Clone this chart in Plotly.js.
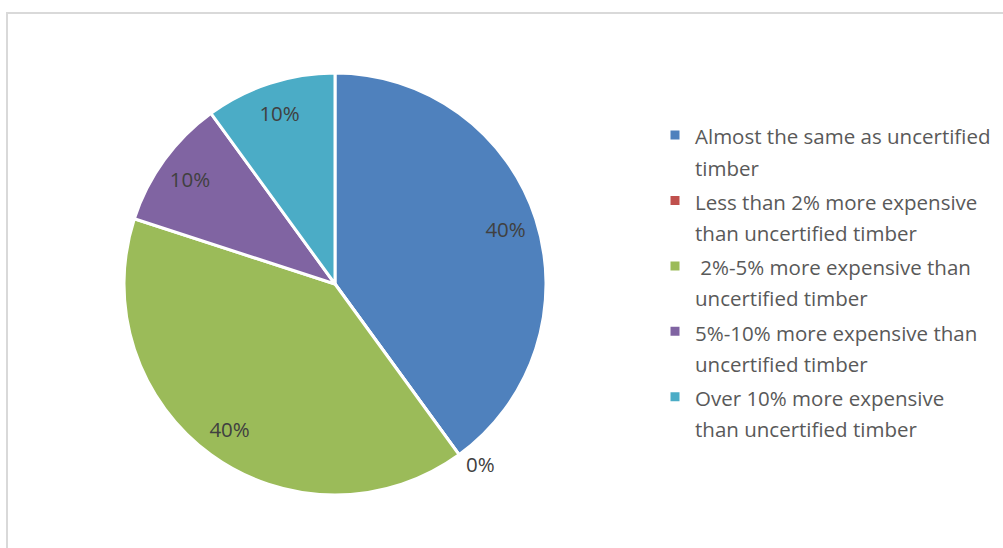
<!DOCTYPE html>
<html>
<head>
<meta charset="utf-8">
<script src="https://cdn.plot.ly/plotly-3.0.1.min.js"></script>
<style>html,body{margin:0;padding:0;background:#fff;}#chart{width:1003px;height:548px;}</style>
</head>
<body>
<div id="chart"></div>
<script>
var categories = [
  "Almost the same as uncertified<br>timber",
  "Less than 2% more expensive<br>than uncertified timber",
  "\u00a02%-5% more expensive than<br>uncertified timber",
  "5%-10% more expensive than<br>uncertified timber",
  "Over 10% more expensive<br>than uncertified timber"
];
var values = [40, 0, 40, 10, 10];
var colors = ["#4F81BD", "#C0504D", "#9BBB59", "#8064A2", "#4BACC6"];
var labelPositions = ["inside", "outside", "inside", "inside", "inside"];

var W = 1003, H = 548;
var cx = 335, cy = 284, R = 211;
var FONT = "'Open Sans', Lato, sans-serif";
var dom = { x: [(cx - R) / W, (cx + R) / W], y: [(H - cy - R) / H, (H - cy + R) / H] };

var pieTrace = {
  type: "pie",
  labels: categories.map(function(c){ return '<span style="font-size:20.5px">' + c + '</span>'; }),
  values: values,
  sort: false,
  direction: "clockwise",
  rotation: 0,
  marker: { colors: colors, line: { color: "#ffffff", width: 3 } },
  textinfo: "none",
  hoverinfo: "none",
  domain: dom
};

// transparent ring used only to place the percentage labels near the rim
var labelTrace = {
  type: "pie",
  labels: pieTrace.labels,
  values: values,
  sort: false,
  direction: "clockwise",
  rotation: 0,
  hole: 0.7,
  showlegend: false,
  marker: { colors: colors.map(function(){ return "rgba(0,0,0,0)"; }), line: { width: 0 } },
  texttemplate: "%{percent:.0%}",
  textposition: labelPositions,
  insidetextorientation: "horizontal",
  textfont: { family: FONT, size: 20.5, color: "#404040" },
  outsidetextfont: { family: FONT, size: 20.5, color: "#404040" },
  hoverinfo: "none",
  domain: dom
};

var layout = {
  width: W, height: H,
  margin: { l: 0, r: 0, t: 0, b: 0 },
  paper_bgcolor: "#ffffff",
  showlegend: true,
  legend: {
    x: 655 / W, xanchor: "left",
    y: (H - 113) / H, yanchor: "top",
    valign: "top",
    font: { family: FONT, size: 24, color: "#595959" },
    bgcolor: "rgba(0,0,0,0)"
  },
  shapes: [{
    type: "rect", xref: "paper", yref: "paper",
    x0: 7 / W, x1: 1.05, y0: -0.05, y1: (H - 13) / H,
    line: { color: "#d9d9d9", width: 2 }
  }]
};

Plotly.newPlot("chart", [pieTrace, labelTrace], layout, { displayModeBar: false, staticPlot: true });
</script>
</body>
</html>
